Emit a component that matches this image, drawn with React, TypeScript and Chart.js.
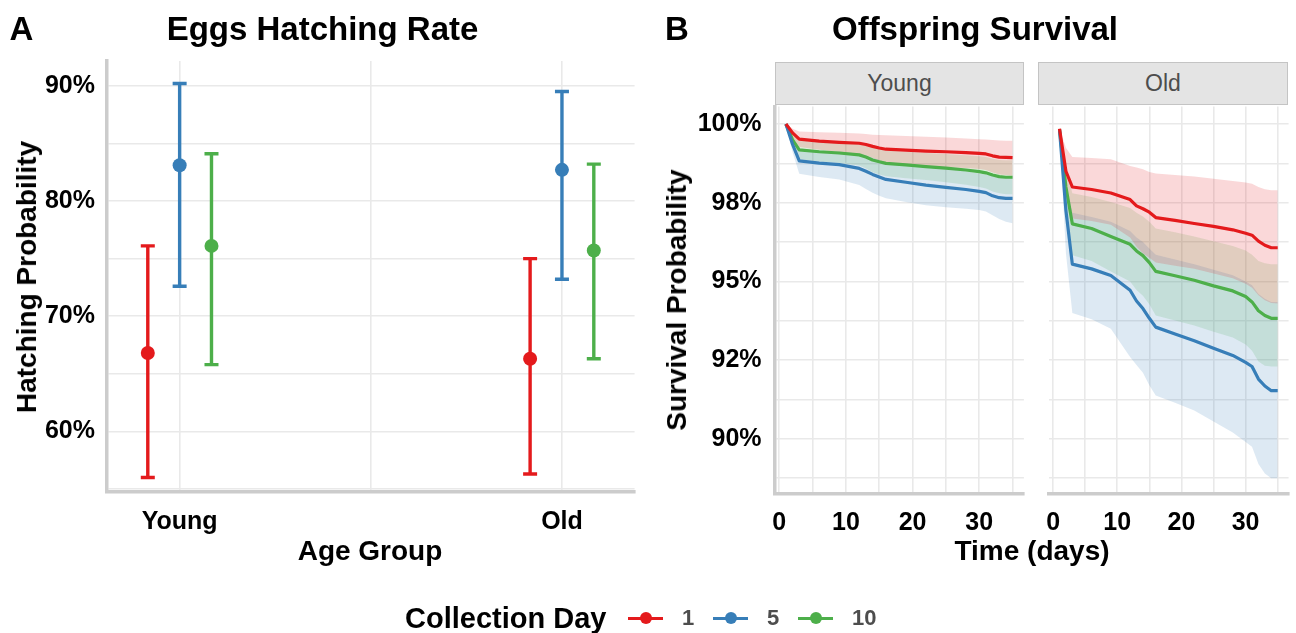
import React, { useEffect, useRef } from 'react';
import { Chart, registerables } from 'chart.js';

Chart.register(...registerables);

const FONT = '"Liberation Sans", Arial, Helvetica, sans-serif';
const GRID = '#e9e9e9';
const AXIS = '#cccccc';

// ---------------- Shared ----------------
const collectionDays = ['1', '5', '10'];
const seriesColors = ['#E41A1C', '#377EB8', '#4DAF4A'];
const ribbonColors = ['rgba(228,26,28,0.17)', 'rgba(55,126,184,0.17)', 'rgba(77,175,74,0.17)'];

// ---------------- Panel A: Eggs Hatching Rate ----------------
const ageGroups = ['Young', 'Old'];
const groupPositions = [1, 2];
const dodgeOffsets = [-0.0833, 0, 0.0833];

const hatchMean1 = [0.668, 0.663];
const hatchLow1 = [0.560, 0.563];
const hatchHigh1 = [0.761, 0.750];
const hatchMean5 = [0.831, 0.827];
const hatchLow5 = [0.726, 0.732];
const hatchHigh5 = [0.902, 0.895];
const hatchMean10 = [0.761, 0.757];
const hatchLow10 = [0.658, 0.663];
const hatchHigh10 = [0.841, 0.832];

const hatchYTicks = [0.55, 0.6, 0.65, 0.7, 0.75, 0.8, 0.85, 0.9];
const hatchYLabels = ['', '60%', '', '70%', '', '80%', '', '90%'];
const hatchXTicks = [1, 1.5, 2];
const hatchXLabels = ['Young', '', 'Old'];

// ---------------- Panel B: Offspring Survival ----------------
const survDays = [1, 2, 3, 6, 9, 12, 13, 14, 15, 16, 19, 22, 25, 28, 30, 31, 32, 33, 34, 35];

const youngSurv1 = [1.0, 0.9972, 0.9952, 0.9946, 0.9942, 0.9939, 0.9935, 0.9929, 0.9924, 0.992, 0.9917, 0.9914, 0.9912, 0.9909, 0.9907, 0.9905, 0.9899, 0.9895, 0.9894, 0.9893];
const youngHigh1 = [1.0, 0.9985, 0.9976, 0.9974, 0.9972, 0.997, 0.9968, 0.9966, 0.9965, 0.9964, 0.9962, 0.996, 0.9957, 0.9954, 0.9952, 0.9951, 0.9949, 0.9948, 0.9947, 0.9947];
const youngLow1 = [1.0, 0.9958, 0.9927, 0.9918, 0.9911, 0.9906, 0.9901, 0.9893, 0.9884, 0.9876, 0.9871, 0.9866, 0.9863, 0.986, 0.9857, 0.9854, 0.9846, 0.984, 0.9838, 0.9836];
const youngSurv5 = [1.0, 0.9935, 0.9883, 0.9876, 0.9871, 0.9859, 0.985, 0.984, 0.9832, 0.9824, 0.9815, 0.9806, 0.9799, 0.9792, 0.9786, 0.9782, 0.9772, 0.9766, 0.9764, 0.9764];
const youngHigh5 = [1.0, 0.9958, 0.992, 0.9916, 0.9913, 0.9906, 0.99, 0.9893, 0.9886, 0.9879, 0.9873, 0.9866, 0.9858, 0.985, 0.9843, 0.984, 0.9836, 0.9835, 0.9834, 0.9834];
const youngLow5 = [1.0, 0.991, 0.9842, 0.9832, 0.9824, 0.9806, 0.9794, 0.9782, 0.9772, 0.9764, 0.9752, 0.9742, 0.9736, 0.9731, 0.9727, 0.9722, 0.971, 0.9698, 0.969, 0.9685];
const youngSurv10 = [1.0, 0.995, 0.9918, 0.9912, 0.9908, 0.9902, 0.9895, 0.9886, 0.988, 0.9875, 0.987, 0.9865, 0.986, 0.9854, 0.9849, 0.9845, 0.9838, 0.9833, 0.9831, 0.9831];
const youngHigh10 = [1.0, 0.9968, 0.9948, 0.9943, 0.994, 0.9936, 0.9931, 0.9925, 0.992, 0.9916, 0.9912, 0.9908, 0.9905, 0.9901, 0.9898, 0.9895, 0.989, 0.9886, 0.9885, 0.9885];
const youngLow10 = [1.0, 0.9932, 0.9888, 0.9881, 0.9876, 0.9868, 0.9859, 0.9847, 0.984, 0.9834, 0.9828, 0.9822, 0.9815, 0.9807, 0.98, 0.9795, 0.9786, 0.978, 0.9777, 0.9777];

const oldSurv1 = [0.9985, 0.985, 0.98, 0.9792, 0.9781, 0.976, 0.974, 0.9731, 0.972, 0.9703, 0.9694, 0.9684, 0.9675, 0.9664, 0.9653, 0.9647, 0.9628, 0.9615, 0.9607, 0.9607];
const oldHigh1 = [0.9985, 0.9925, 0.9895, 0.9892, 0.9888, 0.9867, 0.9862, 0.9856, 0.9848, 0.9843, 0.9838, 0.9833, 0.9826, 0.9819, 0.9814, 0.981, 0.98, 0.9793, 0.979, 0.979];
const oldLow1 = [0.9985, 0.9775, 0.97, 0.9692, 0.968, 0.964, 0.961, 0.959, 0.9575, 0.956, 0.955, 0.954, 0.9525, 0.951, 0.9493, 0.948, 0.9456, 0.944, 0.9432, 0.943];
const oldSurv5 = [0.9983, 0.9725, 0.9555, 0.954, 0.9519, 0.9472, 0.9438, 0.9414, 0.9383, 0.9355, 0.9333, 0.9312, 0.9288, 0.9265, 0.9243, 0.923, 0.919, 0.9168, 0.9153, 0.9153];
const oldHigh5 = [0.9983, 0.98, 0.9718, 0.9705, 0.969, 0.966, 0.964, 0.9625, 0.9605, 0.9585, 0.957, 0.9555, 0.9537, 0.952, 0.95, 0.9488, 0.946, 0.9445, 0.9435, 0.9435];
const oldLow5 = [0.9983, 0.959, 0.94, 0.938, 0.935, 0.926, 0.9235, 0.921, 0.917, 0.9138, 0.9115, 0.909, 0.9055, 0.902, 0.899, 0.8975, 0.892, 0.889, 0.8875, 0.8875];
const oldSurv10 = [0.9983, 0.98, 0.9683, 0.9668, 0.9643, 0.9618, 0.9597, 0.9582, 0.956, 0.9532, 0.9518, 0.9504, 0.9486, 0.947, 0.9452, 0.9435, 0.9407, 0.9392, 0.9383, 0.9383];
const oldHigh10 = [0.9983, 0.986, 0.978, 0.9768, 0.9752, 0.9733, 0.9718, 0.9706, 0.969, 0.9668, 0.9656, 0.9643, 0.9628, 0.9613, 0.9598, 0.9585, 0.9565, 0.9558, 0.9555, 0.9555];
const oldLow10 = [0.9983, 0.9738, 0.9583, 0.9565, 0.9532, 0.95, 0.9473, 0.9455, 0.9428, 0.9392, 0.9376, 0.936, 0.934, 0.9322, 0.93, 0.928, 0.9246, 0.9232, 0.923, 0.923];

const survYTicks = [0.8875, 0.9, 0.9125, 0.925, 0.9375, 0.95, 0.9625, 0.975, 0.9875, 1.0];
const survYLabels = ['', '90%', '', '92%', '', '95%', '', '98%', '', '100%'];
const survXTicks = [0, 5, 10, 15, 20, 25, 30, 35];
const survXLabels = ['0', '', '10', '', '20', '', '30', ''];

// ---------------- Helpers ----------------
const tickFont = { family: FONT, size: 25, weight: 'bold' as const };

function toPoints(xs: number[], ys: number[]) {
  return xs.map((x, i) => ({ x, y: ys[i] }));
}

function buildHatchConfig(): any {
  const means = [hatchMean1, hatchMean5, hatchMean10];
  const lows = [hatchLow1, hatchLow5, hatchLow10];
  const highs = [hatchHigh1, hatchHigh5, hatchHigh10];
  const datasets: any[] = [];
  means.forEach((_, s) => {
    groupPositions.forEach((g, gi) => {
      const x = g + dodgeOffsets[s];
      datasets.push({
        type: 'line',
        data: [{ x, y: lows[s][gi] }, { x, y: highs[s][gi] }],
        borderColor: seriesColors[s],
        borderWidth: 3.4,
        pointStyle: 'line',
        pointRadius: 7,
        pointBorderWidth: 3.4,
        pointBorderColor: seriesColors[s],
        pointBackgroundColor: seriesColors[s],
        showLine: true,
        fill: false,
        order: 2,
      });
    });
  });
  means.forEach((m, s) => {
    datasets.push({
      type: 'line',
      data: groupPositions.map((g, gi) => ({ x: g + dodgeOffsets[s], y: m[gi] })),
      showLine: false,
      pointStyle: 'circle',
      pointRadius: 7,
      pointBorderWidth: 0,
      pointBackgroundColor: seriesColors[s],
      pointBorderColor: seriesColors[s],
      fill: false,
      order: 1,
    });
  });
  return {
    type: 'line',
    data: { datasets },
    options: {
      animation: false,
      responsive: false,
      events: [],
      layout: { padding: { left: 0, right: 9, top: 61, bottom: 81 } },
      plugins: { legend: { display: false }, tooltip: { enabled: false } },
      scales: {
        x: {
          type: 'linear',
          min: 0.81,
          max: 2.19,
          afterBuildTicks: (sc: any) => { sc.ticks = hatchXTicks.map((v) => ({ value: v })); },
          afterFit: (sc: any) => { sc.height = 60; },
          grid: { color: GRID, lineWidth: 1.6, drawTicks: false },
          border: { display: true, color: AXIS, width: 3.5 },
          ticks: {
            autoSkip: false, maxRotation: 0, padding: 15, color: '#000', font: tickFont,
            callback: (_v: any, i: number) => hatchXLabels[i],
          },
        },
        y: {
          type: 'linear',
          min: 0.5474,
          max: 0.9215,
          afterBuildTicks: (sc: any) => { sc.ticks = hatchYTicks.map((v) => ({ value: v })); },
          afterFit: (sc: any) => { sc.width = 107; },
          grid: { color: GRID, lineWidth: 1.6, drawTicks: false },
          border: { display: true, color: AXIS, width: 3.5 },
          ticks: {
            autoSkip: false, padding: 12, color: '#000', font: tickFont,
            callback: (_v: any, i: number) => hatchYLabels[i],
          },
        },
      },
    },
  };
}

function buildSurvConfig(surv: number[][], lows: number[][], highs: number[][], showY: boolean, yAxisWidth: number, rightPad: number): any {
  const datasets: any[] = [];
  surv.forEach((_, s) => {
    const upperIndex = datasets.length;
    datasets.push({
      data: toPoints(survDays, highs[s]),
      borderColor: 'rgba(0,0,0,0)',
      borderWidth: 1,
      pointRadius: 0,
      fill: upperIndex + 1,
      backgroundColor: ribbonColors[s],
      order: 3,
    });
    datasets.push({
      data: toPoints(survDays, lows[s]),
      borderColor: 'rgba(0,0,0,0)',
      borderWidth: 1,
      pointRadius: 0,
      fill: false,
      order: 3,
    });
  });
  surv.forEach((v, s) => {
    datasets.push({
      data: toPoints(survDays, v),
      borderColor: seriesColors[s],
      borderWidth: 3.2,
      pointRadius: 0,
      fill: false,
      tension: 0,
      borderJoinStyle: 'round',
      order: 1,
    });
  });
  return {
    type: 'line',
    data: { datasets },
    options: {
      animation: false,
      responsive: false,
      events: [],
      layout: { padding: { left: 0, right: rightPad, top: 106.4, bottom: 79 } },
      plugins: { legend: { display: false }, tooltip: { enabled: false }, filler: { propagate: false } },
      scales: {
        x: {
          type: 'linear',
          min: -0.7,
          max: 36.7,
          afterBuildTicks: (sc: any) => { sc.ticks = survXTicks.map((v) => ({ value: v })); },
          afterFit: (sc: any) => { sc.height = 60; },
          grid: { color: GRID, lineWidth: 1.6, drawTicks: false },
          border: { display: true, color: AXIS, width: 3.5 },
          ticks: {
            autoSkip: false, maxRotation: 0, padding: 14, color: '#000', font: tickFont,
            callback: (_v: any, i: number) => survXLabels[i],
          },
        },
        y: {
          type: 'linear',
          min: 0.8825,
          max: 1.0056,
          afterBuildTicks: (sc: any) => { sc.ticks = survYTicks.map((v) => ({ value: v })); },
          afterFit: (sc: any) => { sc.width = yAxisWidth; },
          grid: { color: GRID, lineWidth: 1.6, drawTicks: false },
          border: { display: showY, color: AXIS, width: 3.5 },
          ticks: {
            display: showY,
            autoSkip: false, padding: 13, color: '#000', font: tickFont,
            callback: (_v: any, i: number) => survYLabels[i],
          },
        },
      },
    },
  };
}

function ChartCanvas({ config, left, top, width, height }: { config: () => any; left: number; top: number; width: number; height: number }) {
  const ref = useRef<HTMLCanvasElement | null>(null);
  useEffect(() => {
    if (!ref.current) return;
    const chart = new Chart(ref.current, config());
    return () => chart.destroy();
  }, []);
  return (
    <canvas
      ref={ref}
      width={width}
      height={height}
      style={{ position: 'absolute', left, top, width, height }}
    />
  );
}

function Txt({ x, y, size, bold = true, color = '#000', rotate = false, align = 'center', children }: any) {
  const tx = align === 'left' ? '0' : '-50%';
  return (
    <div
      style={{
        position: 'absolute',
        left: x,
        top: y,
        fontFamily: FONT,
        fontSize: size,
        fontWeight: bold ? 700 : 400,
        color,
        lineHeight: 1,
        whiteSpace: 'nowrap',
        transform: `translate(${tx}, -50%)${rotate ? ' rotate(-90deg)' : ''}`,
      }}
    >
      {children}
    </div>
  );
}

function Strip({ x, width, label }: { x: number; width: number; label: string }) {
  return (
    <div
      style={{
        position: 'absolute', left: x, top: 62, width, height: 43, boxSizing: 'border-box',
        background: '#e4e4e4', border: '1.5px solid #c4c4c4', display: 'flex',
        alignItems: 'center', justifyContent: 'center', fontFamily: FONT, fontSize: 23,
        color: '#4d4d4d', lineHeight: 1,
      }}
    >
      {label}
    </div>
  );
}

export default function App() {
  const legendKeyStart = 628;
  const legendSpacing = 85;
  return (
    <div style={{ position: 'absolute', left: 0, top: 0, width: 1296, height: 633, background: '#fff', overflow: 'hidden' }}>
      <ChartCanvas config={buildHatchConfig} left={0} top={0} width={645} height={633} />
      <ChartCanvas
        config={() => buildSurvConfig([youngSurv1, youngSurv5, youngSurv10], [youngLow1, youngLow5, youngLow10], [youngHigh1, youngHigh5, youngHigh10], true, 94.6, 6.1)}
        left={680} top={0} width={350} height={633}
      />
      <ChartCanvas
        config={() => buildSurvConfig([oldSurv1, oldSurv5, oldSurv10], [oldLow1, oldLow5, oldLow10], [oldHigh1, oldHigh5, oldHigh10], false, 7.3, 7.4)}
        left={1032} top={0} width={264} height={633}
      />

      {/* Panel letters & titles */}
      <Txt x={21.5} y={28} size={33}>A</Txt>
      <Txt x={322.5} y={28} size={33}>Eggs Hatching Rate</Txt>
      <Txt x={677} y={28} size={33}>B</Txt>
      <Txt x={975} y={28} size={33}>Offspring Survival</Txt>

      {/* Axis titles */}
      <Txt x={27} y={277} size={28} rotate>Hatching Probability</Txt>
      <Txt x={370} y={551} size={28}>Age Group</Txt>
      <Txt x={677} y={300} size={28} rotate>Survival Probability</Txt>
      <Txt x={1032} y={551} size={28}>Time (days)</Txt>

      {/* Facet strips */}
      <Strip x={775} width={249} label={ageGroups[0]} />
      <Strip x={1038} width={250} label={ageGroups[1]} />

      {/* Legend */}
      <Txt x={405} y={618} size={29} align="left">Collection Day</Txt>
      {collectionDays.map((d, i) => {
        const kx = legendKeyStart + i * legendSpacing;
        return (
          <React.Fragment key={d}>
            <div style={{ position: 'absolute', left: kx, top: 616.5, width: 35, height: 3, background: seriesColors[i] }} />
            <div style={{ position: 'absolute', left: kx + 17.5 - 6, top: 612, width: 12, height: 12, borderRadius: '50%', background: seriesColors[i] }} />
            <Txt x={kx + 54} y={618} size={22} color="#4d4d4d" align="left">{d}</Txt>
          </React.Fragment>
        );
      })}
    </div>
  );
}
